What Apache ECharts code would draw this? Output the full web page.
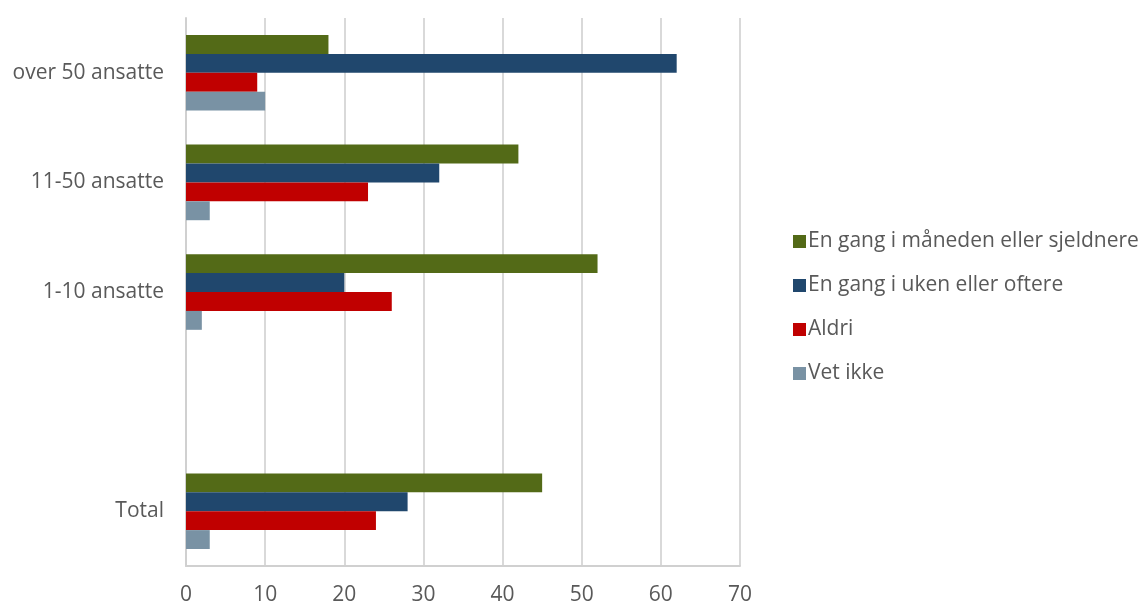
<!DOCTYPE html>
<html>
<head>
<meta charset="utf-8">
<script src="https://cdn.jsdelivr.net/npm/echarts@6/dist/echarts.min.js"></script>
<style>
  html, body { margin: 0; padding: 0; background: #ffffff; }
  #chart { width: 1145px; height: 606px; }
</style>
</head>
<body>
<div id="chart"></div>
<script>
// Categories listed bottom to top; the blank slot separates Total from the size groups
const categories = ['Total', '', '1-10 ansatte', '11-50 ansatte', 'over 50 ansatte'];
const xTicks = [0, 10, 20, 30, 40, 50, 60, 70];

const seriesNames = [
  'En gang i måneden eller sjeldnere',
  'En gang i uken eller oftere',
  'Aldri',
  'Vet ikke'
];
const maanedligEllerSjeldnere = [45, null, 52, 42, 18];
const ukentligEllerOftere = [28, null, 20, 32, 62];
const aldri = [24, null, 26, 23, 9];
const vetIkke = [3, null, 2, 3, 10];

const colors = ['#536a17', '#20476d', '#c00000', '#7992a4'];
const values = [maanedligEllerSjeldnere, ukentligEllerOftere, aldri, vetIkke];
const fontFamily = '"Open Sans", "Noto Sans", sans-serif';
const textColor = '#595959';

const chart = echarts.init(document.getElementById('chart'), null, { renderer: 'canvas' });

chart.setOption({
  animation: false,
  backgroundColor: '#ffffff',
  grid: { left: 186, top: 18, width: 554, height: 548, containLabel: false },
  legend: {
    orient: 'vertical',
    left: 788,
    top: 226,
    itemWidth: 13,
    itemHeight: 13,
    itemGap: 23,
    icon: 'rect',
    data: seriesNames,
    textStyle: { fontFamily, fontSize: 21, color: textColor, padding: [0, 0, 0, -3] }
  },
  xAxis: {
    type: 'value',
    min: xTicks[0],
    max: xTicks[xTicks.length - 1],
    interval: 10,
    axisLine: { show: true, lineStyle: { color: '#d0d0d0', width: 2 } },
    axisTick: { show: false },
    splitLine: { show: true, lineStyle: { color: '#d9d9d9', width: 2 } },
    axisLabel: { fontFamily, fontSize: 21, color: textColor, margin: 19 }
  },
  yAxis: {
    type: 'category',
    data: categories,
    axisLine: { show: true, lineStyle: { color: '#d0d0d0', width: 2 } },
    axisTick: { show: false },
    axisLabel: { fontFamily, fontSize: 21, color: textColor, margin: 22 }
  },
  series: seriesNames.map((name, i) => ({
    name,
    type: 'bar',
    data: values[i],
    barGap: '0%',
    barCategoryGap: '31%',
    itemStyle: { color: colors[i] }
  }))
});
</script>
</body>
</html>
